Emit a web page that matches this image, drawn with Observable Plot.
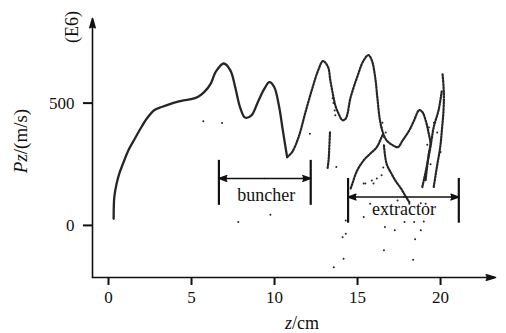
<!DOCTYPE html>
<html><head><meta charset="utf-8">
<script src="https://cdn.jsdelivr.net/npm/d3@7"></script>
<script src="https://cdn.jsdelivr.net/npm/@observablehq/plot@0.6"></script>
<style>
body{margin:0;background:#fff;}
#chart svg [aria-label="x-axis tick"] path, #chart svg [aria-label="y-axis tick"] path, #chart svg .tick line {stroke-width:2px;}
</style>
</head><body><div id="chart"></div>
<script>
// Main dense particle band (z in cm, Pz in 1e6 m/s)
const trunkZ  = [0.31,0.35,0.49,0.65,0.87,1.2,1.53,1.87,2.31,2.75,3.2,3.87,4.53,4.98,5.37,5.76,6.16,6.45,6.94,7.34,7.63,7.92,8.22,8.61,9.0,9.39,9.69,9.98,10.28,10.47,10.66,10.76];
const trunkPz = [27,116,171,212,252,307,348,389,437,471,484,500,511,516,525,545,580,627,662,634,566,484,441,450,505,559,586,566,484,402,320,279];
// Upper (dotted) continuation
const upperZ  = [10.76,11.06,11.45,11.84,12.24,12.63,12.92,13.22,13.36,13.57,13.66,13.81,14.1,14.29,14.59,14.98,15.37,15.66,15.86,16.06,16.19,16.35,16.55,16.75,17.14,17.43,17.72,18.12,18.41,18.71,18.9,19.1,19.29,19.39,19.29,19.19,19.1];
const upperPz = [279,300,361,457,552,634,672,648,593,518,491,464,430,437,525,607,675,696,675,607,525,430,375,348,327,320,348,389,430,471,464,430,375,334,293,239,184];
// Steep tail after the z≈13 peak
const tailZ  = [13.34,13.3,13.26,13.2];
const tailPz = [380,320,270,235];
// Lower rising branch
const lowerZ  = [14.59,14.69,14.98,15.37,15.76,16.16,16.45,16.55];
const lowerPz = [151,171,225,266,293,320,361,375];
// Falling branch
const fallZ  = [16.59,16.75,17.04,17.34,17.63,17.92,18.12];
const fallPz = [327,252,212,177,150,116,95];
// Right rising branches
const riseAZ  = [19.59,19.78,19.98,20.08,20.18,20.2,20.12];
const riseAPz = [157,239,320,389,471,540,621];
const riseBZ  = [18.9,19.12,19.39,19.59,19.88,20.08];
const riseBPz = [157,225,320,402,471,552];
// Scattered particles
const scatterZ  = [5.71,6.84,7.82,9.75,13.57,12.13,13.72,15.37,14.1,14.29,14.16,16.59,15.86,16.65,17.24,17.83,18.41,18.81,18.47,18.35,18.99,15.76,17.41,18.12,18.81,19.1,15.47,15.96,16.45,16.16,14.29,13.55,13.62,13.5,13.66,16.45,16.6,16.5,16.7,19.3,19.5,19.6,19.2,19.8,20.0,19.4,15.37,16.55];
const scatterPz = [426,419,14,44,-171,375,239,34,-48,-34,-136,-102,184,-7,-20,14,14,-20,-57,-140,16,89,102,89,91,89,171,171,205,192,20,500,470,520,450,400,360,420,380,400,360,420,330,380,300,250,171,237];
// Annotations
const bracketLabel = ["buncher","extractor"];
const bracketZ1    = [6.65,14.43];
const bracketZ2    = [12.18,21.1];
const bracketLow   = [82,9];
const bracketHigh  = [266,192];
const bracketArrow = [192,116];
const labelZ       = [9.5,17.8];
const labelPz      = [123,65];
// Axis ticks
const xTicks = [0,5,10,15,20];
const yTicks = [0,500];

const pts = (zs, ps) => zs.map((z,i)=>({z, pz: ps[i]}));
const brackets = bracketLabel.map((label,i)=>({label, z1: bracketZ1[i], z2: bracketZ2[i], mid:(bracketZ1[i]+bracketZ2[i])/2, low: bracketLow[i], high: bracketHigh[i], a: bracketArrow[i], lz: labelZ[i], lp: labelPz[i]}));

const xDom = [-0.964, 23.31];
const yDom = [-213, 846];
const axes = [
  {x1: xDom[0], y1: yDom[0], x2: xDom[0], y2: yDom[1]},
  {x1: xDom[0], y1: yDom[0], x2: xDom[1], y2: yDom[0]}
];
const ink = "#262626";
const dotted = {x:"z", y:"pz", stroke: ink, strokeWidth:2.2, strokeDasharray:"1.6 1.5", curve:"catmull-rom"};
const font = "'Liberation Serif', serif";

const svg = Plot.plot({
  width: 506, height: 333,
  marginLeft: 92, marginRight: 11, marginTop: 18, marginBottom: 56,
  style: {fontFamily: font, fontSize: "17px", background: "#fff", color: "#111"},
  x: {domain: xDom, ticks: xTicks, tickSize: 8, tickPadding: 5, label: null, tickFormat: d => d},
  y: {domain: yDom, ticks: yTicks, tickSize: 9, tickPadding: 9, label: null, tickFormat: d => d},
  marks: [
    Plot.arrow(axes, {x1:"x1", y1:"y1", x2:"x2", y2:"y2", stroke:"#111", fill:"#111", strokeWidth:1.6, headLength:9, headAngle:32}),
    Plot.line(pts(trunkZ, trunkPz), {x:"z", y:"pz", stroke: ink, strokeWidth:2.3, curve:"catmull-rom"}),
    Plot.line(pts(upperZ, upperPz), dotted),
    Plot.line(pts(tailZ, tailPz), dotted),
    Plot.line(pts(lowerZ, lowerPz), dotted),
    Plot.line(pts(fallZ, fallPz), dotted),
    Plot.line(pts(riseAZ, riseAPz), dotted),
    Plot.line(pts(riseBZ, riseBPz), dotted),
    Plot.dot(pts(scatterZ, scatterPz), {x:"z", y:"pz", r:1, fill: ink, stroke:"none"}),
    Plot.ruleX(brackets, {x:"z1", y1:"low", y2:"high", stroke:"#111", strokeWidth:2.2}),
    Plot.ruleX(brackets, {x:"z2", y1:"low", y2:"high", stroke:"#111", strokeWidth:2.2}),
    Plot.arrow(brackets, {x1:"mid", y1:"a", x2:"z1", y2:"a", stroke:"#111", fill:"#111", strokeWidth:1.4, headLength:9, headAngle:40}),
    Plot.arrow(brackets, {x1:"mid", y1:"a", x2:"z2", y2:"a", stroke:"#111", fill:"#111", strokeWidth:1.4, headLength:9, headAngle:40}),
    Plot.text(brackets, {x:"lz", y:"lp", text:"label", fontSize:18, fontFamily: font, fill:"#111"})
  ]
});

const s = d3.select(svg);
s.selectAll("text").attr("font-family", font);
const xl = s.append("text").attr("x", 302).attr("y", 329).attr("text-anchor","middle").attr("font-family", font).attr("font-size", 18).attr("fill","#111");
xl.append("tspan").attr("font-style","italic").text("z");
xl.append("tspan").text("/cm");
const yl = s.append("text").attr("transform","translate(20,141) rotate(-90)").attr("dy","0.35em").attr("text-anchor","middle").attr("font-family", font).attr("font-size", 19).attr("fill","#111");
yl.append("tspan").attr("font-style","italic").text("Pz");
yl.append("tspan").text("/(m/s)");
s.append("text").attr("transform","translate(72,27) rotate(-90)").attr("dy","0.35em").attr("text-anchor","middle").attr("font-family", font).attr("font-size", 18).attr("fill","#111").text("(E6)");

document.getElementById("chart").appendChild(svg);
</script>
</body></html>
